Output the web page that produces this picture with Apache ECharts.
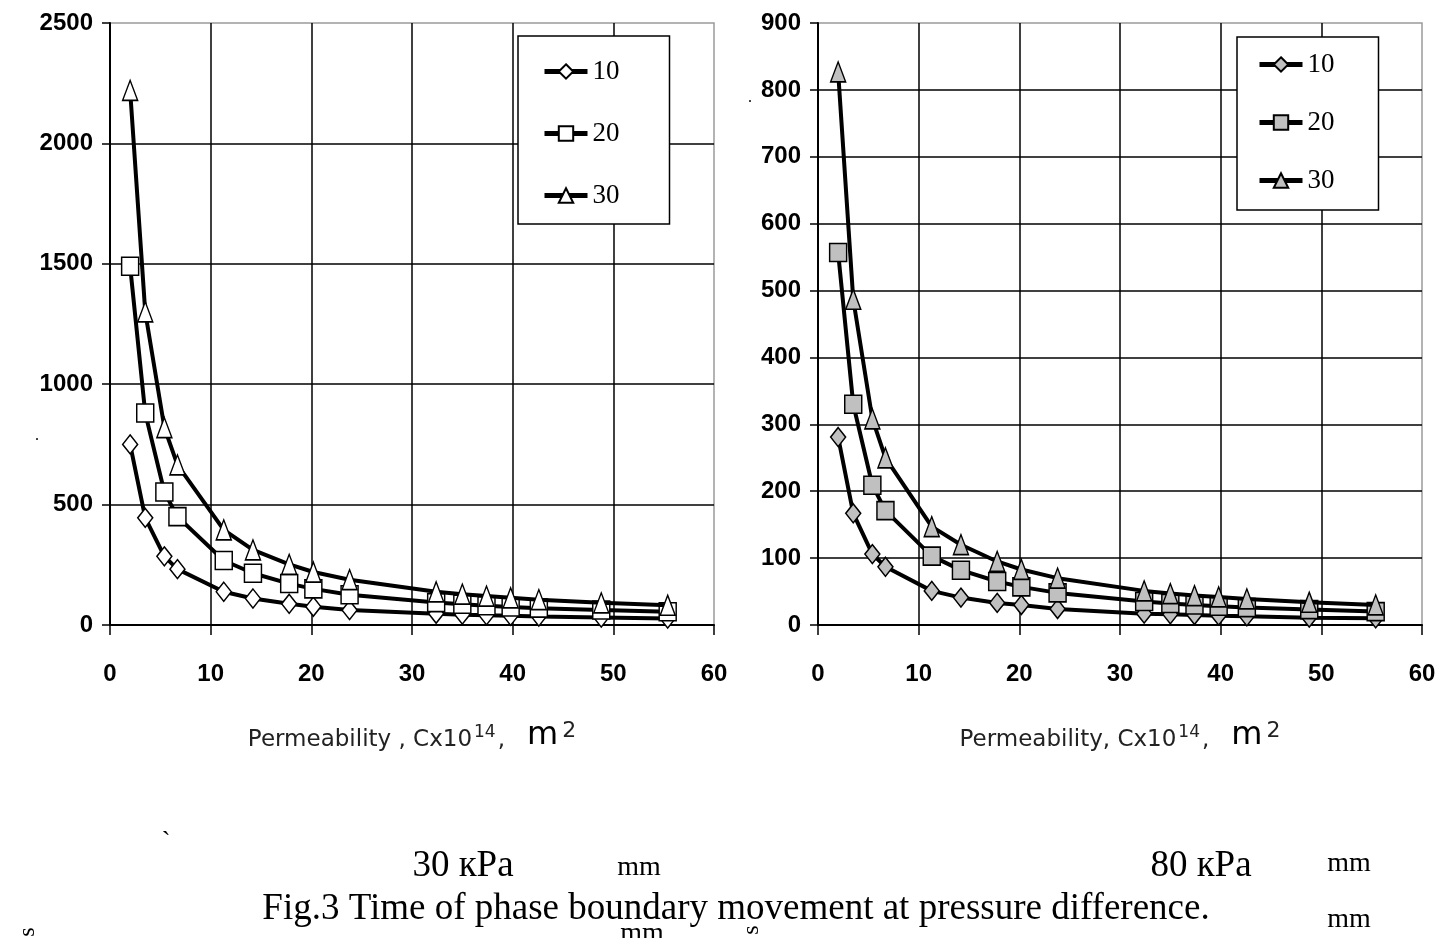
<!DOCTYPE html>
<html><head><meta charset="utf-8">
<script src="https://cdn.jsdelivr.net/npm/echarts@6/dist/echarts.min.js"></script>
<style>html,body{margin:0;padding:0;background:#fff}#c{width:1451px;height:938px}</style>
</head><body><div id="c"></div>
<script>
// ---- data ----
const permeability = [2, 3.5, 5.4, 6.7, 11.3, 14.2, 17.8, 20.2, 23.8, 32.4, 35, 37.4, 39.8, 42.6, 48.8, 55.4];
const legendNames = ['10', '20', '30'];
// left panel: 30 kPa
const kPa30_mm10 = [750, 445, 285, 232, 138, 110, 88, 76, 62, 47, 43, 40, 38, 35, 31, 27];
const kPa30_mm20 = [1490, 880, 552, 450, 268, 215, 172, 150, 126, 93, 86, 80, 75, 70, 62, 55];
const kPa30_mm30 = [2220, 1300, 820, 665, 395, 312, 252, 220, 188, 138, 128, 120, 113, 105, 92, 82];
// right panel: 80 kPa
const kPa80_mm10 = [281, 167, 106, 87, 51, 41, 33, 30, 24, 17, 16, 15, 14, 13, 11, 10];
const kPa80_mm20 = [557, 330, 209, 171, 103, 82, 65, 57, 48, 35, 32, 30, 28, 26, 23, 20];
const kPa80_mm30 = [827, 487, 308, 250, 147, 120, 95, 83, 70, 51, 47, 44, 42, 39, 34, 30];
// tick labels
const xTicks = [0, 10, 20, 30, 40, 50, 60];
const yTicksLeft = [0, 500, 1000, 1500, 2000, 2500];
const yTicksRight = [0, 100, 200, 300, 400, 500, 600, 700, 800, 900];

const chart = echarts.init(document.getElementById('c'), null, {renderer: 'canvas'});
const tickFont = {fontFamily: '"Liberation Sans Narrow","Liberation Sans",Arial,sans-serif', fontWeight: 'bold', fontSize: 24, color: '#000'};
const symbols = ['diamond', 'rect', 'triangle'];
const symSizes = [[15, 19], [17, 18], [15, 20]];
const sans = '"DejaVu Sans",Verdana,sans-serif';

function pts(vals) { return permeability.map((x, i) => [x, vals[i]]); }

function xAxis(gi, name) {
  return {
    gridIndex: gi, type: 'value', min: xTicks[0], max: xTicks[xTicks.length - 1], interval: xTicks[1] - xTicks[0],
    axisLine: {show: true, onZero: false, lineStyle: {color: '#000', width: 2}},
    axisTick: {show: true, length: 10, lineStyle: {color: '#000', width: 1.5}},
    axisLabel: Object.assign({margin: 37, formatter: v => String(v)}, tickFont),
    splitLine: {show: true, showMaxLine: false, lineStyle: {color: '#000', width: 1.5}},
    name: name, nameLocation: 'middle', nameGap: 95,
    nameTextStyle: {
      rich: {
        a: {fontFamily: sans, fontSize: 23, color: '#222', verticalAlign: 'bottom'},
        s: {fontFamily: sans, fontSize: 17, color: '#222', verticalAlign: 'top', padding: [4, 2, 0, 2]},
        m: {fontFamily: sans, fontSize: 32, color: '#000', verticalAlign: 'bottom', padding: [0, 0, 0, 22]},
        t: {fontFamily: sans, fontSize: 22, color: '#222', verticalAlign: 'top', padding: [0, 0, 0, 4]}
      }
    }
  };
}
function yAxis(gi, ticks) {
  return {
    gridIndex: gi, type: 'value', min: ticks[0], max: ticks[ticks.length - 1], interval: ticks[1] - ticks[0],
    axisLine: {show: true, lineStyle: {color: '#000', width: 2}},
    axisTick: {show: true, length: 8, lineStyle: {color: '#000', width: 1.5}},
    axisLabel: Object.assign({margin: 17, formatter: v => String(v)}, tickFont),
    splitLine: {show: true, showMaxLine: false, lineStyle: {color: '#000', width: 1.5}}
  };
}
function makeSeries(name, idx, vals, gi, fill) {
  return {
    type: 'line', name: name, xAxisIndex: gi, yAxisIndex: gi, data: pts(vals),
    symbol: symbols[idx], symbolSize: symSizes[idx], showAllSymbol: true,
    color: '#000',
    lineStyle: {color: '#000', width: 4},
    itemStyle: {color: fill, borderColor: '#000', borderWidth: 1.5},
    emphasis: {disabled: true}, z: 2 + idx
  };
}
function legend(left, top, names, pad, gap) {
  return {
    orient: 'vertical', left: left, top: top, data: names, padding: pad, itemGap: gap,
    itemWidth: 43, itemHeight: 18, borderColor: '#000', borderWidth: 1.5, backgroundColor: '#fff',
    selectedMode: false,
    lineStyle: {width: 5, color: '#000'},
    formatter: n => n.trim(),
    textStyle: {fontFamily: '"Liberation Serif","Times New Roman",serif', fontSize: 27, color: '#000', padding: [0, 0, 0, 0]}
  };
}
const gray = '#c0c0c0';
const rightNames = legendNames.map(n => n + ' ');
const axisTitleL = '{a|Permeability , Cx10}{s|14}{a|,}{m|m}{t|2}';
const axisTitleR = '{a|Permeability, Cx10}{s|14}{a|,}{m|m}{t|2}';

function txt(x, y, s, size, extra) {
  return Object.assign({type: 'text', x: x, y: y, silent: true,
    style: Object.assign({text: s, fill: '#000', font: size + 'px "Liberation Serif","Times New Roman",serif', textAlign: 'center', align: 'center', textVerticalAlign: 'middle', verticalAlign: 'middle'}, extra || {})});
}

chart.setOption({
  animation: false,
  backgroundColor: '#fff',
  grid: [
    {left: 110, top: 23, width: 604, height: 602, show: true, borderColor: '#9a9a9a', borderWidth: 1.5, backgroundColor: 'transparent', containLabel: false, outerBoundsMode: 'none'},
    {left: 818, top: 23, width: 604, height: 602, show: true, borderColor: '#9a9a9a', borderWidth: 1.5, backgroundColor: 'transparent', containLabel: false, outerBoundsMode: 'none'}
  ],
  xAxis: [xAxis(0, axisTitleL), xAxis(1, axisTitleR)],
  yAxis: [yAxis(0, yTicksLeft), yAxis(1, yTicksRight)],
  legend: [
    legend(518, 36, legendNames, [22, 50, 15, 24], 35),
    legend(1237, 37, rightNames, [14, 44, 16, 20], 31)
  ],
  series: [
    makeSeries(legendNames[0], 0, kPa30_mm10, 0, '#fff'),
    makeSeries(legendNames[1], 1, kPa30_mm20, 0, '#fff'),
    makeSeries(legendNames[2], 2, kPa30_mm30, 0, '#fff'),
    makeSeries(rightNames[0], 0, kPa80_mm10, 1, gray),
    makeSeries(rightNames[1], 1, kPa80_mm20, 1, gray),
    makeSeries(rightNames[2], 2, kPa80_mm30, 1, gray)
  ],
  graphic: [
    txt(463, 866, '30 кPa', 37),
    txt(639, 868, 'mm', 28),
    txt(1201, 866, '80 кPa', 37),
    txt(1349, 864, 'mm', 28),
    txt(736, 909, 'Fig.3 Time of phase boundary movement at pressure difference.', 37),
    txt(642, 934, 'mm', 28),
    txt(1349, 920, 'mm', 28),
    Object.assign(txt(28, 932, 's', 24), {rotation: Math.PI / 2}),
    Object.assign(txt(752, 930, 's', 24), {rotation: Math.PI / 2}),
    txt(166, 842, '`', 26),
    txt(37, 436, '.', 16),
    txt(750, 98, '.', 16)
  ]
});
</script></body></html>
